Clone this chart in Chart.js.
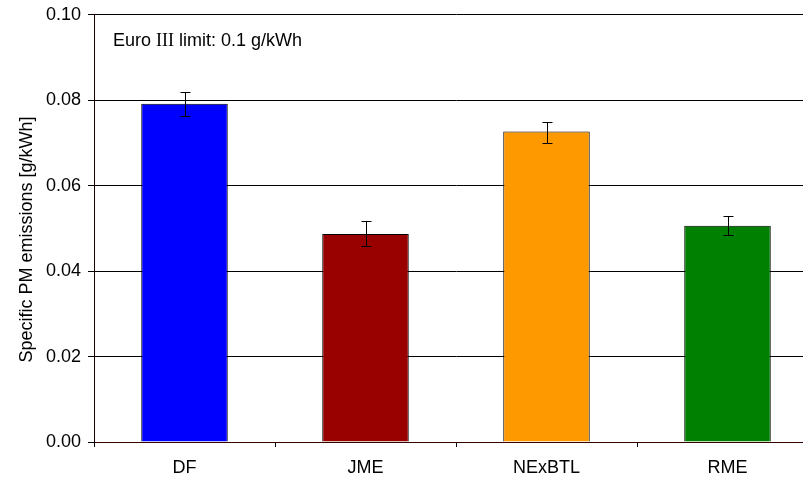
<!DOCTYPE html>
<html><head><meta charset="utf-8">
<script src="https://cdn.jsdelivr.net/npm/chart.js@4/dist/chart.umd.min.js"></script>
<style>
html,body{margin:0;padding:0;background:#fff;overflow:hidden;}
#wrap{width:818px;height:482px;position:relative;}
</style></head>
<body><div id="wrap"><canvas id="c" width="818" height="482"></canvas></div>
<script>
const categories = ['DF', 'JME', 'NExBTL', 'RME'];
const pmValues = [0.0792, 0.0487, 0.0727, 0.0506];
const errLow = [0.0764, 0.0459, 0.0701, 0.0484];
const errHigh = [0.0820, 0.0518, 0.0750, 0.0528];
const barColors = ['#0000FF', '#990000', '#FF9900', '#008000'];
const yTicks = [0, 0.02, 0.04, 0.06, 0.08, 0.10];
const yTitle = 'Specific PM emissions [g/kWh]';
const noteParts = [['Euro ', 'sans'], ['III', 'serif'], [' limit: 0.1 g/kWh', 'sans']];

const FONT = 'Liberation Sans, Arial, sans-serif';
const SERIF = 'Liberation Serif, Times New Roman, serif';
const FS = 18;

const errorBars = {
  id: 'errorBars',
  afterDatasetsDraw(chart) {
    const ctx = chart.ctx, x = chart.scales.x, y = chart.scales.y;
    ctx.save();
    ctx.strokeStyle = '#000';
    ctx.lineWidth = 1;
    categories.forEach((c, i) => {
      const px = Math.round(x.getPixelForValue(i)) + 0.5;
      const y1 = Math.round(y.getPixelForValue(errHigh[i])) + 0.5;
      const y2 = Math.round(y.getPixelForValue(errLow[i])) + 0.5;
      ctx.beginPath();
      ctx.moveTo(px, y1); ctx.lineTo(px, y2);
      ctx.moveTo(px - 5, y1); ctx.lineTo(px + 5, y1);
      ctx.moveTo(px - 5, y2); ctx.lineTo(px + 5, y2);
      ctx.stroke();
    });
    ctx.restore();
  }
};

const texts = {
  id: 'texts',
  afterDraw(chart) {
    const ctx = chart.ctx, a = chart.chartArea;
    ctx.save();
    ctx.fillStyle = '#000';
    ctx.textBaseline = 'alphabetic';
    let x = a.left + 19;
    const yb = a.top + 31;
    noteParts.forEach(([t, f]) => {
      ctx.font = FS + 'px ' + (f === 'serif' ? SERIF : FONT);
      ctx.fillText(t, x, yb);
      x += ctx.measureText(t).width;
    });
    ctx.translate(27, (a.top + a.bottom) / 2 + 11);
    ctx.rotate(-Math.PI / 2);
    ctx.font = FS + 'px ' + FONT;
    ctx.textAlign = 'center';
    ctx.textBaseline = 'middle';
    ctx.fillText(yTitle, 0, 0);
    ctx.restore();
  }
};

new Chart(document.getElementById('c'), {
  type: 'bar',
  data: {
    labels: categories,
    datasets: [{
      data: pmValues,
      backgroundColor: barColors,
      borderColor: '#000',
      borderWidth: 1,
      categoryPercentage: 1,
      barPercentage: 0.478
    }]
  },
  options: {
    responsive: false,
    animation: false,
    layout: { padding: { top: 0, left: 0, right: 0, bottom: 0 } },
    plugins: { legend: { display: false }, tooltip: { enabled: false } },
    scales: {
      x: {
        offset: true,
        afterFit(s) { s.height = 40; },
        grid: { offset: true, drawOnChartArea: false, drawTicks: true, tickLength: 5, color: '#000' },
        border: { color: '#300', width: 1 },
        ticks: { color: '#000', font: { family: FONT, size: FS }, padding: 10, maxRotation: 0 }
      },
      y: {
        min: 0, max: 0.1,
        afterBuildTicks(s) { s.ticks = yTicks.map(v => ({ value: v })); },
        afterFit(s) { s.width = 94; },
        grid: { color: '#000', tickLength: 6, drawTicks: true },
        border: { color: '#200', width: 1 },
        ticks: {
          color: '#000', font: { family: FONT, size: FS, lineHeight: 0.87 }, padding: 7,
          callback: v => v.toFixed(2)
        }
      }
    }
  },
  plugins: [errorBars, texts]
});
</script></body></html>
